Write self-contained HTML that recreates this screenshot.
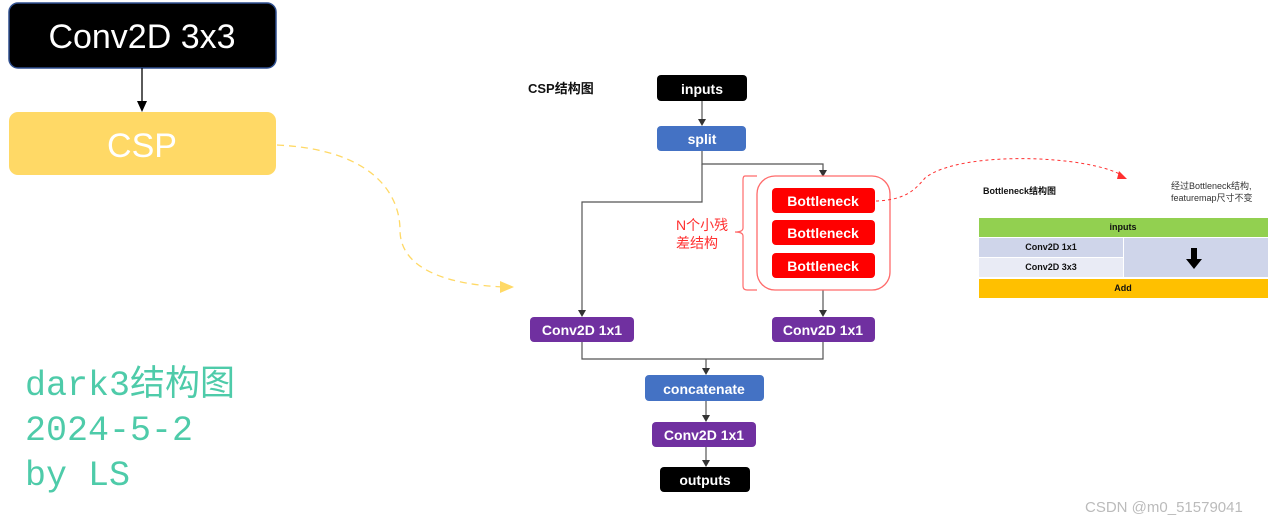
<!DOCTYPE html>
<html><head><meta charset="utf-8"><style>
html,body{margin:0;padding:0;background:#fff;width:1276px;height:519px;overflow:hidden}
svg{display:block}
text{font-family:"Liberation Sans","Noto Sans CJK SC",sans-serif}
</style></head><body>
<svg width="1276" height="519" viewBox="0 0 1276 519" xmlns="http://www.w3.org/2000/svg">
<!-- left -->
<rect x="9" y="3" width="267" height="65" rx="9" fill="#000" stroke="#2f4f8f" stroke-width="1.5"/>
<text x="142" y="48" font-size="34" fill="#fff" text-anchor="middle">Conv2D 3x3</text>
<line x1="142" y1="68" x2="142" y2="104" stroke="#000" stroke-width="1.3"/>
<path d="M137,101 L147,101 L142,112z" fill="#000"/>
<rect x="9" y="112" width="267" height="63" rx="9" fill="#ffd966"/>
<text x="142" y="157" font-size="34" fill="#fff" text-anchor="middle">CSP</text>
<path d="M277,145 C380,150 400,200 400,230 C400,270 450,285 505,287" fill="none" stroke="#ffd966" stroke-width="1.3" stroke-dasharray="7,5"/>
<path d="M500,281 L514,287 L500,293z" fill="#ffd966"/>
<g font-size="35" fill="#4ecba9">
<text x="25" y="395" style="font-family:'Liberation Mono','Noto Sans CJK SC',monospace">dark3结构图</text>
<text x="25" y="440" style="font-family:'Liberation Mono',monospace">2024-5-2</text>
<text x="25" y="485" style="font-family:'Liberation Mono',monospace">by LS</text>
</g>
<!-- CSP diagram -->
<text x="528" y="93" font-size="13" font-weight="bold" fill="#111">CSP结构图</text>
<g stroke="#555" stroke-width="1.2" fill="none">
<line x1="702" y1="101" x2="702" y2="121"/>
<polyline points="702,151 702,164 823,164 823,171"/>
<polyline points="702,164 702,202 582,202 582,312"/>
<line x1="823" y1="290" x2="823" y2="312"/>
<polyline points="582,342 582,359 823,359 823,342"/>
<line x1="706" y1="359" x2="706" y2="370"/>
<line x1="706" y1="401" x2="706" y2="417"/>
<line x1="706" y1="447" x2="706" y2="462"/>
</g>
<g fill="#333">
<path d="M698,119 L706,119 L702,126z"/>
<path d="M819,170 L827,170 L823,177z"/>
<path d="M578,310 L586,310 L582,317z"/>
<path d="M819,310 L827,310 L823,317z"/>
<path d="M702,368 L710,368 L706,375z"/>
<path d="M702,415 L710,415 L706,422z"/>
<path d="M702,460 L710,460 L706,467z"/>
</g>
<rect x="657" y="75" width="90" height="26" rx="4" fill="#000"/>
<rect x="657" y="126" width="89" height="25" rx="4" fill="#4472c4"/>
<rect x="757" y="176" width="133" height="114" rx="18" fill="#fff" stroke="#ff6b6b" stroke-width="1.3"/>
<path d="M757,176 L745,176 Q743,176 743,180 L743,228 Q743,232 735,232 Q743,232 743,236 L743,286 Q743,290 747,290 L757,290" fill="none" stroke="#ff6b6b" stroke-width="1.2"/>
<g fill="#ff0000">
<rect x="772" y="188" width="103" height="25" rx="4"/>
<rect x="772" y="220" width="103" height="25" rx="4"/>
<rect x="772" y="253" width="103" height="25" rx="4"/>
</g>
<text x="676" y="230" font-size="14" fill="#ff3030">N个小残</text>
<text x="676" y="248" font-size="14" fill="#ff3030">差结构</text>
<g fill="#7030a0">
<rect x="530" y="317" width="104" height="25" rx="4"/>
<rect x="772" y="317" width="103" height="25" rx="4"/>
<rect x="652" y="422" width="104" height="25" rx="4"/>
</g>
<rect x="645" y="375" width="119" height="26" rx="4" fill="#4472c4"/>
<rect x="660" y="467" width="90" height="25" rx="4" fill="#000"/>
<g font-size="14" fill="#fff" text-anchor="middle" font-weight="bold">
<text x="702" y="94">inputs</text>
<text x="702" y="144">split</text>
<text x="823" y="206">Bottleneck</text>
<text x="823" y="238">Bottleneck</text>
<text x="823" y="271">Bottleneck</text>
<text x="582" y="335">Conv2D 1x1</text>
<text x="823" y="335">Conv2D 1x1</text>
<text x="704" y="440">Conv2D 1x1</text>
<text x="704" y="394">concatenate</text>
<text x="705" y="485">outputs</text>
</g>
<!-- red dotted -->
<path d="M876,201 C905,200 915,190 925,178 C960,150 1090,155 1123,176" fill="none" stroke="#ff3030" stroke-width="1" stroke-dasharray="3,3"/>
<path d="M1119,171 L1127,179 L1117,179z" fill="#ff3030"/>
<!-- bottleneck table -->
<text x="983" y="194" font-size="9" font-weight="bold" fill="#111">Bottleneck结构图</text>
<text x="1171" y="189" font-size="9" fill="#333">经过Bottleneck结构,</text>
<text x="1171" y="201" font-size="9" fill="#333">featuremap尺寸不变</text>
<rect x="979" y="218" width="289" height="19" fill="#92d050"/>
<rect x="979" y="238" width="144" height="19" fill="#cfd5ea"/>
<rect x="979" y="258" width="144" height="19" fill="#e9ebf5"/>
<rect x="1124" y="238" width="144" height="39" fill="#cfd5ea"/>
<path d="M1191,248 L1197,248 L1197,259 L1202,259 L1194,269 L1186,259 L1191,259z" fill="#000"/>
<rect x="979" y="279" width="289" height="19" fill="#ffc000"/>
<g font-size="9" fill="#111" text-anchor="middle" font-weight="bold">
<text x="1123" y="230">inputs</text>
<text x="1051" y="250">Conv2D 1x1</text>
<text x="1051" y="270">Conv2D 3x3</text>
<text x="1123" y="291">Add</text>
</g>
<text x="1085" y="512" font-size="15" fill="#bbb">CSDN @m0_51579041</text>
</svg>
</body></html>
